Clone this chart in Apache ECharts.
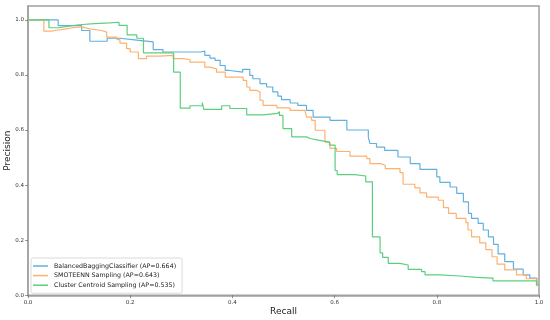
<!DOCTYPE html>
<html>
<head>
<meta charset="utf-8">
<script src="https://cdn.jsdelivr.net/npm/echarts@6/dist/echarts.min.js"></script>
<style>html,body{margin:0;padding:0;background:#fff}#c{width:550px;height:320px}</style>
</head>
<body>
<div id="c"></div>
<script>
var seriesNames = ['BalancedBaggingClassifier (AP=0.664)', 'SMOTEENN Sampling (AP=0.643)', 'Cluster Centroid Sampling (AP=0.535)'];
var xTicks = [0, 0.2, 0.4, 0.6, 0.8, 1.0];
var yTicks = [0, 0.2, 0.4, 0.6, 0.8, 1.0];

var bbcRecall = [0,0.059,0.105,0.121,0.155,0.18,0.213,0.245,0.264,0.337,0.346,0.356,0.366,0.376,0.386,0.395,0.420,0.434,0.440,0.454,0.467,0.479,0.489,0.496,0.513,0.528,0.545,0.558,0.591,0.624,0.666,0.669,0.682,0.698,0.724,0.748,0.767,0.800,0.806,0.826,0.839,0.852,0.862,0.868,0.881,0.891,0.901,0.911,0.920,0.933,0.950,0.969,0.982,0.996,1.0];
var bbcPrecision = [1.0,0.979,0.961,0.922,0.933,0.926,0.920,0.892,0.883,0.886,0.871,0.861,0.853,0.834,0.816,0.810,0.820,0.798,0.786,0.768,0.756,0.738,0.723,0.710,0.698,0.689,0.671,0.647,0.635,0.600,0.575,0.551,0.538,0.526,0.502,0.478,0.457,0.430,0.410,0.393,0.370,0.339,0.297,0.279,0.261,0.237,0.212,0.185,0.150,0.122,0.095,0.074,0.062,0.040,0.035];

var smoteRecall = [0,0.031,0.045,0.06,0.075,0.086,0.105,0.121,0.144,0.154,0.174,0.180,0.193,0.200,0.216,0.232,0.258,0.284,0.304,0.317,0.346,0.356,0.369,0.386,0.421,0.428,0.434,0.447,0.454,0.460,0.487,0.513,0.542,0.545,0.555,0.562,0.581,0.591,0.604,0.630,0.663,0.669,0.690,0.699,0.728,0.734,0.757,0.767,0.780,0.803,0.813,0.823,0.838,0.857,0.861,0.868,0.884,0.896,0.908,0.918,0.933,0.956,0.975,0.996,1.0];
var smotePrecision = [1.0,0.959,0.963,0.967,0.971,0.974,0.967,0.961,0.955,0.937,0.928,0.915,0.895,0.883,0.859,0.868,0.871,0.859,0.855,0.846,0.828,0.822,0.810,0.792,0.780,0.756,0.744,0.738,0.708,0.689,0.680,0.671,0.665,0.647,0.635,0.599,0.556,0.533,0.522,0.505,0.496,0.478,0.472,0.460,0.445,0.403,0.390,0.372,0.356,0.345,0.318,0.297,0.279,0.264,0.237,0.212,0.190,0.166,0.140,0.113,0.092,0.074,0.060,0.040,0.035];

var ccRecall = [0,0.041,0.06,0.08,0.10,0.13,0.16,0.178,0.194,0.213,0.226,0.285,0.298,0.317,0.341,0.344,0.379,0.395,0.428,0.46,0.488,0.492,0.499,0.516,0.545,0.552,0.568,0.59,0.601,0.605,0.64,0.661,0.674,0.689,0.694,0.705,0.728,0.744,0.770,0.777,0.806,0.845,0.878,0.910,0.995,1.0];
var ccPrecision = [1.0,0.971,0.977,0.982,0.986,0.989,0.991,0.980,0.945,0.933,0.880,0.810,0.679,0.688,0.699,0.675,0.688,0.678,0.655,0.660,0.666,0.653,0.605,0.575,0.569,0.563,0.556,0.545,0.453,0.438,0.433,0.412,0.212,0.154,0.138,0.116,0.110,0.094,0.086,0.074,0.070,0.065,0.062,0.052,0.037,0.035];

var colors = ['#62b0de', '#fdb170', '#5ccf7f'];

function zip(a, b) { return a.map(function (v, i) { return [v, b[i]]; }); }

var chart = echarts.init(document.getElementById('c'), null, {renderer: 'canvas'});
var font = 'DejaVu Sans';
var dataSets = [zip(bbcRecall, bbcPrecision), zip(smoteRecall, smotePrecision), zip(ccRecall, ccPrecision)];

chart.setOption({
  animation: false,
  backgroundColor: '#fff',
  grid: {left: 28, right: 11, top: 6, bottom: 24.7, containLabel: false, outerBoundsMode: 'none',
    show: true, borderColor: '#a0a0a0', borderWidth: 1.5, backgroundColor: 'transparent'},
  legend: {
    orient: 'vertical', left: 31, top: 258,
    data: seriesNames,
    icon: 'rect', itemWidth: 15, itemHeight: 1.5, itemGap: 1.6,
    padding: [4, 6, 4, 2],
    borderColor: '#d0d0d0', borderWidth: 0.8, borderRadius: 2,
    backgroundColor: 'rgba(255,255,255,0.8)',
    textStyle: {fontFamily: font, fontSize: 6.3, color: '#222', lineHeight: 8, padding: [0,0,0,1]}
  },
  xAxis: {
    type: 'value', min: 0, max: 1, interval: 0.2,
    name: 'Recall', nameLocation: 'middle', nameGap: 12, nameMoveOverlap: false,
    nameTextStyle: {fontFamily: font, fontSize: 9, color: '#222'},
    axisLine: {show: true, lineStyle: {color: '#a0a0a0', width: 1.5}},
    axisTick: {show: true, length: 3, lineStyle: {color: '#555', width: 0.6}},
    axisLabel: {fontFamily: font, fontSize: 5.5, color: '#333', margin: 4,
      formatter: function (v) { return xTicks.indexOf(Math.round(v * 10) / 10) >= 0 ? v.toFixed(1) : ''; }},
    splitLine: {show: false}
  },
  yAxis: {
    type: 'value', min: 0, max: 1.05, interval: 0.2,
    name: 'Precision', nameLocation: 'middle', nameGap: 16, nameMoveOverlap: false,
    nameTextStyle: {fontFamily: font, fontSize: 9, color: '#222'},
    axisLine: {show: true, lineStyle: {color: '#a0a0a0', width: 1.5}},
    axisTick: {show: true, length: 3, lineStyle: {color: '#555', width: 0.6}},
    axisLabel: {fontFamily: font, fontSize: 5.5, color: '#333', margin: 4, showMaxLabel: false,
      formatter: function (v) { return yTicks.indexOf(Math.round(v * 10) / 10) >= 0 && Math.abs(v * 10 - Math.round(v * 10)) < 1e-6 ? v.toFixed(1) : ''; }},
    splitLine: {show: false}
  },
  series: dataSets.map(function (d, i) {
    return {
      name: seriesNames[i], type: 'line', step: 'end', data: d,
      showSymbol: false, symbol: 'none', color: colors[i],
      lineStyle: {width: 1.2, color: colors[i]}, clip: true
    };
  })
});
</script>
</body>
</html>
